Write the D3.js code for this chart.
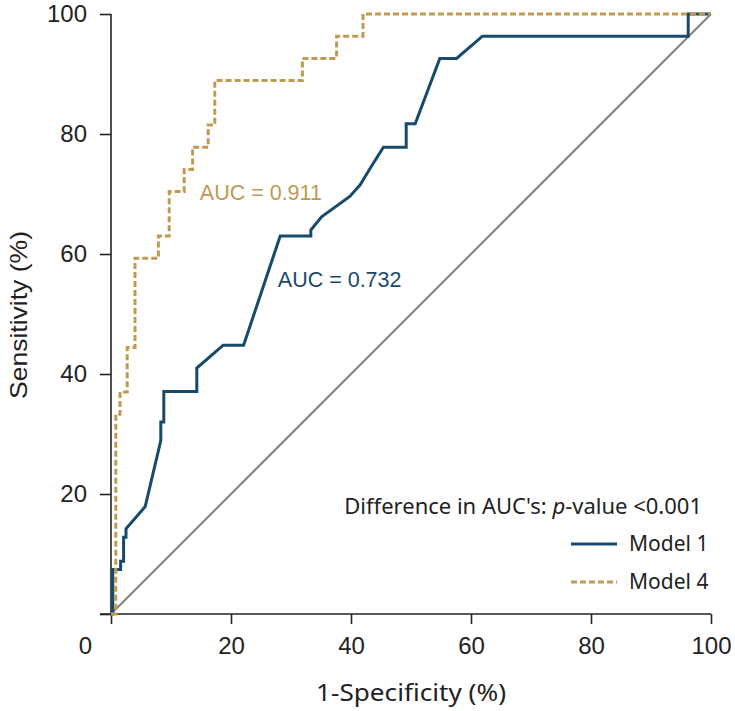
<!DOCTYPE html>
<html><head><meta charset="utf-8">
<script src="https://cdn.jsdelivr.net/npm/d3@7"></script>
<style>body{margin:0;background:#fff}</style>
</head><body><svg id="c" width="735" height="711"></svg>
<script>
// Model 1 ROC (1-specificity %, sensitivity %)
const model1X = [0,0.3,0.3,1.6,1.6,2.1,2.1,2.5,2.5,5.7,8.3,8.3,8.8,8.8,14.3,14.3,18.7,22.1,28.2,33.3,33.3,35.1,39.8,41.5,43.2,45.4,49.2,49.2,50.7,54.8,57.6,61.9,96.2,96.2,100];
const model1Y = [0,0,7.4,7.4,8.8,8.8,12.8,12.8,14.2,17.9,28.9,32.0,32.0,37.1,37.1,41.0,44.8,44.8,63.0,63.0,64.0,66.2,69.6,71.5,74.3,77.8,77.8,81.7,81.7,92.6,92.6,96.3,96.3,100,100];
// Model 4 ROC (step)
const model4X = [0,0.8,0.8,1.5,1.5,2.7,2.7,4.0,4.0,7.9,7.9,9.7,9.7,12.2,12.2,13.6,13.6,16.2,16.2,17.3,17.3,31.9,31.9,37.6,37.6,42.0,42.0,100];
const model4Y = [0,0,33.3,33.3,37.0,37.0,44.4,44.4,59.3,59.3,63.0,63.0,70.4,70.4,74.1,74.1,77.8,77.8,81.5,81.5,88.9,88.9,92.6,92.6,96.3,96.3,100,100];
const refX = [0,100];
const refY = [0,100];
const xTicks = [0,20,40,60,80,100];
const yTicks = [0,20,40,60,80,100];
const seriesNames = ["Model 1","Model 4"];
const aucLabels = ["AUC = 0.732","AUC = 0.911"];
const aucPos = [[27.8,54.5],[14.8,69.0]];

const C1 = "#174a6b", C4 = "#c09a52", TXT = "#222";
const svg = d3.select("#c");
const x = d3.scaleLinear().domain([0,100]).range([111,711]);
const y = d3.scaleLinear().domain([0,100]).range([614,14]);

// axes
const xa = svg.append("g").attr("transform","translate(0,614)")
  .call(d3.axisBottom(x).tickValues(xTicks).tickSize(10).tickSizeOuter(0).tickPadding(8).tickFormat(d=>d));
xa.select(".domain").remove();
xa.append("line").attr("x1",100).attr("x2",x(100)).attr("stroke",TXT).attr("stroke-width",1.6);
xa.selectAll(".tick line").attr("stroke",TXT).attr("stroke-width",1.6);
xa.selectAll(".tick text").attr("font-family","Liberation Sans, Arial, sans-serif").attr("font-size",24).attr("fill",TXT)
  .attr("dy","0.9em")
  .attr("x",d=>d===0?-26:0);

const ya = svg.append("g").attr("transform","translate(111,0)")
  .call(d3.axisLeft(y).tickValues(yTicks).tickSize(11).tickSizeOuter(0).tickPadding(13).tickFormat(d=>d===0?"":d));
ya.select(".domain").remove();
ya.append("line").attr("y1",y(0)).attr("y2",y(100)).attr("stroke",TXT).attr("stroke-width",1.6);
ya.selectAll(".tick line").attr("stroke",TXT).attr("stroke-width",1.6);
ya.selectAll(".tick text").attr("font-family","Liberation Sans, Arial, sans-serif").attr("font-size",24).attr("fill",TXT);

// reference diagonal
const line = d3.line().x(d=>x(d[0])).y(d=>y(d[1]));
svg.append("path").datum(d3.zip(refX,refY)).attr("d",line).attr("fill","none").attr("stroke","#7f7f7f").attr("stroke-width",2);

// curves
svg.append("path").datum(d3.zip(model1X,model1Y)).attr("d",line).attr("fill","none")
  .attr("stroke",C1).attr("stroke-width",3).attr("stroke-linejoin","miter");
svg.append("path").datum(d3.zip(model4X,model4Y)).attr("d",line).attr("fill","none")
  .attr("stroke",C4).attr("stroke-width",3).attr("stroke-dasharray","6,3");

// AUC labels
const aucColors=[C1,C4];
aucLabels.forEach((t,i)=>{
  svg.append("text").attr("x",x(aucPos[i][0])).attr("y",y(aucPos[i][1]))
    .attr("font-family","Liberation Sans, Arial, sans-serif").attr("font-size",21.5).attr("fill",aucColors[i]).text(t);
});

// axis titles
svg.append("text").attr("x",411).attr("y",701).attr("text-anchor","middle")
  .attr("font-family","Noto Sans, sans-serif").attr("font-size",24).attr("fill",TXT)
  .attr("textLength",190).attr("lengthAdjust","spacingAndGlyphs").text("1-Specificity (%)");
svg.append("text").attr("transform","translate(27,315) rotate(-90)").attr("text-anchor","middle")
  .attr("font-family","Liberation Sans, Arial, sans-serif").attr("font-size",24).attr("fill",TXT)
  .attr("textLength",168).attr("lengthAdjust","spacingAndGlyphs").text("Sensitivity (%)");

// legend
const lg = svg.append("g").attr("font-family","Noto Sans, sans-serif").attr("font-size",21).attr("fill",TXT);
const t0 = lg.append("text").attr("x",702).attr("y",514).attr("text-anchor","end").attr("font-size",22);
t0.append("tspan").text("Difference in AUC's: ");
t0.append("tspan").attr("font-style","italic").text("p");
t0.append("tspan").text("-value <0.001");
const lcol=[C1,C4], ldash=[null,"6,3"], ly=[544,582];
seriesNames.forEach((n,i)=>{
  lg.append("line").attr("x1",571).attr("x2",617).attr("y1",ly[i]).attr("y2",ly[i])
    .attr("stroke",lcol[i]).attr("stroke-width",3).attr("stroke-dasharray",ldash[i]);
  lg.append("text").attr("x",629).attr("y",ly[i]+7).text(n);
});
</script></body></html>
